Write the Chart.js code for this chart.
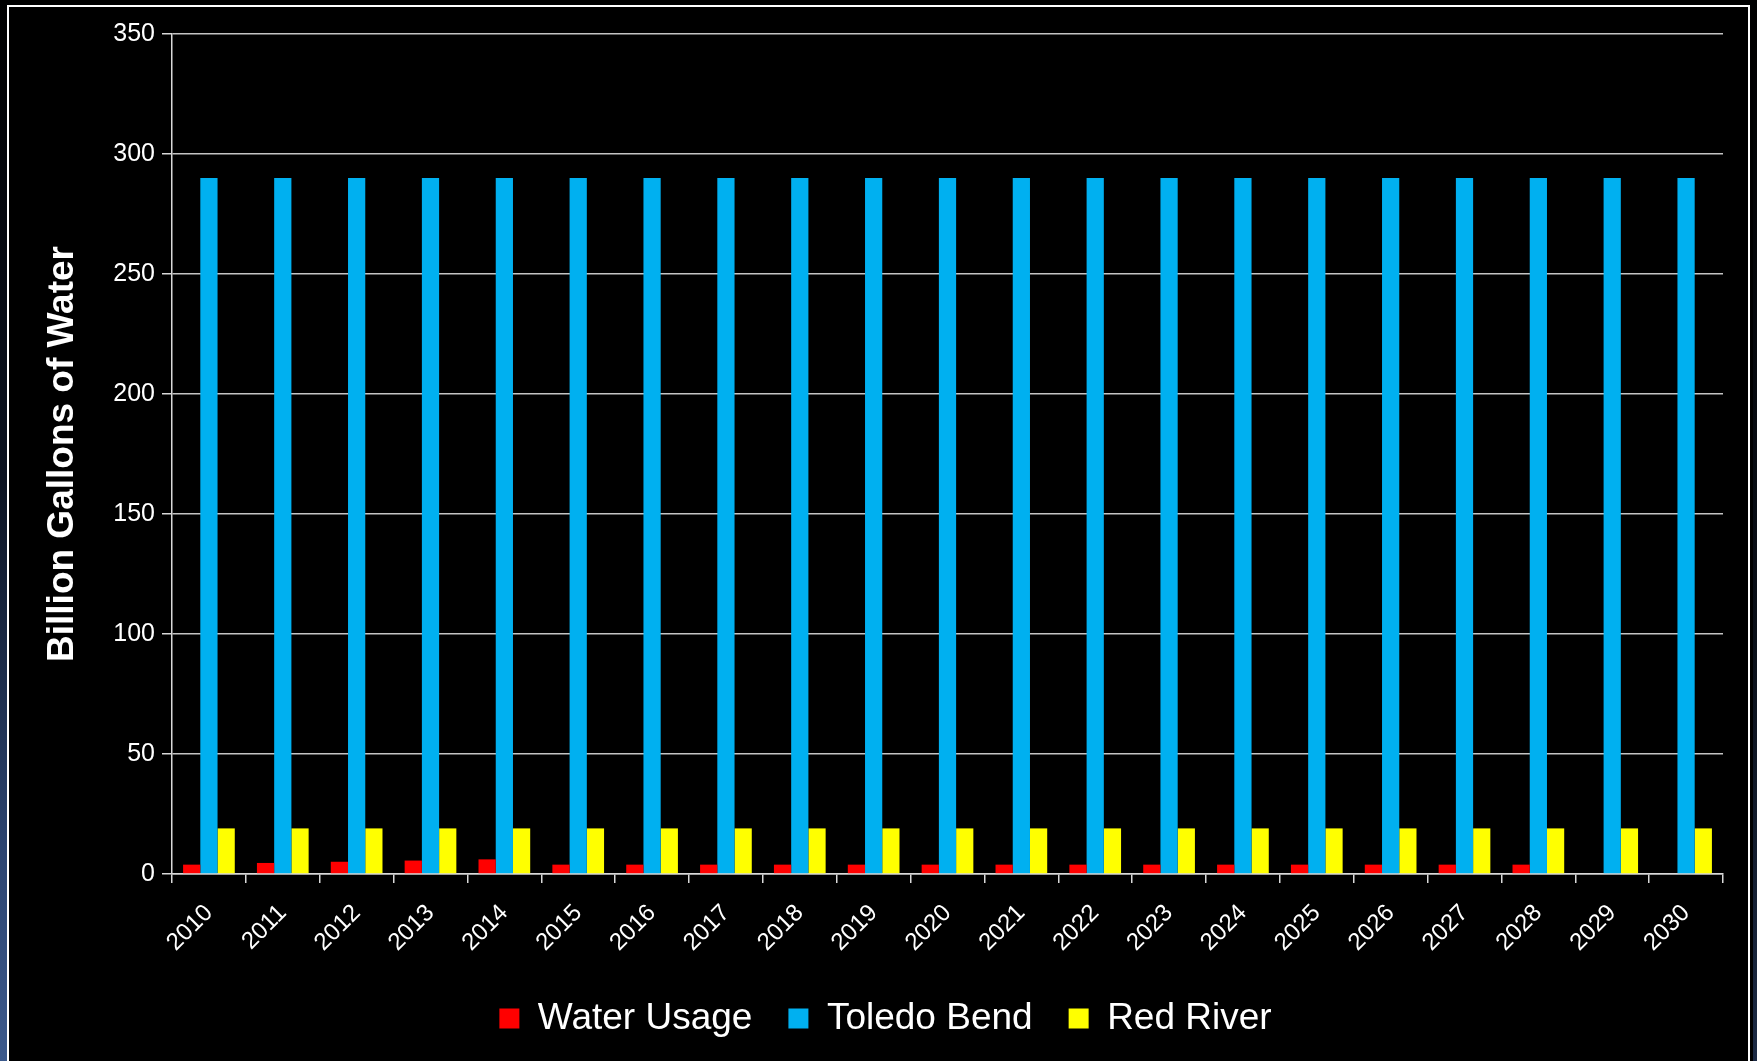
<!DOCTYPE html>
<html>
<head>
<meta charset="utf-8">
<script src="https://cdn.jsdelivr.net/npm/chart.js@4"></script>
<style>
  html, body { margin: 0; padding: 0; background: #000; overflow: hidden; }
  #stage { position: relative; width: 1757px; height: 1061px; }
  #leftStrip { position: absolute; left: 0; top: 0; width: 7px; height: 1061px;
    background: linear-gradient(to bottom, #000 0%, #0b1220 45%, #2c4470 80%, #3d5a8c 100%); }
  #rightStrip { position: absolute; right: 0; top: 0; width: 4px; height: 1061px;
    background: linear-gradient(to bottom, #000 0%, #0a0f18 60%, #1c2a44 100%); }
  #frame { position: absolute; left: 7px; top: 5px; width: 1743px; height: 1100px;
    border: 2px solid #fff; box-sizing: border-box; }
  #wrap { position: absolute; left: 0; top: 0; width: 1757px; height: 1061px; }
</style>
</head>
<body>
<div id="stage">
  <div id="leftStrip"></div>
  <div id="rightStrip"></div>
  <div id="frame"></div>
  <div id="wrap"><canvas id="waterChart"></canvas></div>
</div>
<script>
// data
const years = ['2010', '2011', '2012', '2013', '2014', '2015', '2016', '2017', '2018', '2019',
               '2020', '2021', '2022', '2023', '2024', '2025', '2026', '2027', '2028', '2029', '2030'];
const waterUsage = [3.9, 4.6, 5.1, 5.6, 6.1, 3.9, 3.9, 3.9, 3.9, 3.9,
                    3.9, 3.9, 3.9, 3.9, 3.9, 3.9, 3.9, 3.9, 3.9, null, null];
const toledoBend = [290, 290, 290, 290, 290, 290, 290, 290, 290, 290,
                    290, 290, 290, 290, 290, 290, 290, 290, 290, 290, 290];
const redRiver = [19, 19, 19, 19, 19, 19, 19, 19, 19, 19,
                  19, 19, 19, 19, 19, 19, 19, 19, 19, 19, 19];
const yTicks = [0, 50, 100, 150, 200, 250, 300, 350];

const fontFamily = '"Liberation Sans", Arial, Helvetica, sans-serif';

window.addEventListener('DOMContentLoaded', function() {
    new Chart(document.getElementById('waterChart'), {
        type: 'bar',
        data: {
            labels: years,
            datasets: [{
                label: 'Water Usage',
                data: waterUsage,
                backgroundColor: '#ff0000'
            }, {
                label: 'Toledo Bend',
                data: toledoBend,
                backgroundColor: '#00b0f0'
            }, {
                label: 'Red River',
                data: redRiver,
                backgroundColor: '#ffff00'
            }]
        },
        options: {
            responsive: true,
            maintainAspectRatio: false,
            animation: false,
            datasets: {
                bar: { categoryPercentage: 0.7, barPercentage: 1.0 }
            },
            // left padding shifts the legend to where the original sits
            layout: { padding: { left: 48, right: 34, top: 34, bottom: 14 } },
            plugins: {
                tooltip: { enabled: false },
                legend: {
                    position: 'bottom',
                    labels: {
                        color: '#ffffff',
                        boxWidth: 20,
                        boxHeight: 20,
                        padding: 36,
                        font: { family: fontFamily, size: 37 }
                    }
                }
            },
            scales: {
                x: {
                    afterFit: function(scale) { scale.height = 90; },
                    grid: {
                        offset: true,
                        drawOnChartArea: false,
                        drawTicks: true,
                        tickLength: 9,
                        color: '#d9d9d9',
                        lineWidth: 1.5
                    },
                    border: { color: '#d9d9d9', width: 1.5 },
                    ticks: {
                        color: '#ffffff',
                        minRotation: 45,
                        maxRotation: 45,
                        padding: 16,
                        font: { family: fontFamily, size: 24 }
                    }
                },
                y: {
                    min: 0,
                    max: 350,
                    afterFit: function(scale) { scale.width = 124; },
                    afterBuildTicks: function(scale) {
                        scale.ticks = yTicks.map(function(v) { return { value: v }; });
                    },
                    grid: {
                        color: '#c4c4c4',
                        lineWidth: 1.5,
                        tickLength: 10,
                        tickColor: '#d9d9d9'
                    },
                    border: { color: '#d9d9d9', width: 1.5 },
                    ticks: {
                        color: '#ffffff',
                        padding: 7,
                        font: { family: fontFamily, size: 25 }
                    },
                    title: {
                        display: true,
                        text: 'Billion Gallons of Water',
                        color: '#ffffff',
                        padding: { top: -7, bottom: 0 },
                        font: { family: fontFamily, size: 37, weight: 'bold' }
                    }
                }
            }
        }
    });
});
</script>
</body>
</html>
